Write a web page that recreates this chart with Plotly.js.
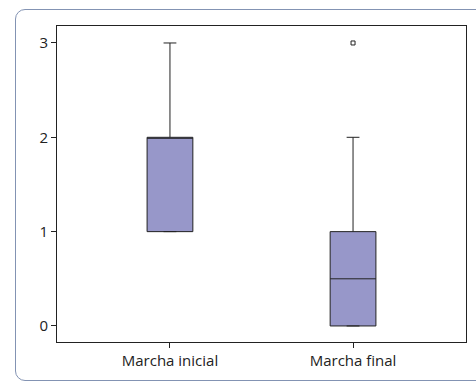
<!DOCTYPE html>
<html>
<head>
<meta charset="utf-8">
<script src="https://cdn.plot.ly/plotly-3.0.1.min.js"></script>
<style>
  html, body { margin: 0; padding: 0; background: #fff; }
  #wrap { position: relative; width: 476px; height: 383px; overflow: hidden; }
  #frame { position: absolute; left: 15px; top: 9px; width: 480px; height: 372px;
           border: 1px solid #8393b3; border-radius: 10px; box-sizing: border-box; }
  #chart { position: absolute; left: 0; top: 0; width: 476px; height: 383px; }
</style>
</head>
<body>
<div id="wrap">
  <div id="frame"></div>
  <div id="chart"></div>
</div>
<script>
const categories = ["Marcha inicial", "Marcha final"];
const q1Values = [1, 0];
const medianValues = [2, 0.5];
const q3Values = [2, 1];
const lowerFences = [1, 0];
const upperFences = [3, 2];
const outlierCategories = ["Marcha final"];
const outlierValues = [3];
const yTickValues = [0, 1, 2, 3];

const boxTrace = {
  type: "box",
  x: categories,
  q1: q1Values,
  median: medianValues,
  q3: q3Values,
  lowerfence: lowerFences,
  upperfence: upperFences,
  fillcolor: "#9797c9",
  line: { color: "#222222", width: 1 },
  whiskerwidth: 0.28,
  width: 0.25,
  boxpoints: false,
  hoverinfo: "skip",
  showlegend: false
};

const outlierTrace = {
  type: "scatter",
  mode: "markers",
  x: outlierCategories,
  y: outlierValues,
  marker: { symbol: "square-open", size: 4, color: "#222222", line: { width: 1, color: "#222222" } },
  hoverinfo: "skip",
  showlegend: false
};

const layout = {
  width: 476,
  height: 383,
  margin: { l: 57, r: 10, t: 26, b: 41 },
  paper_bgcolor: "rgba(0,0,0,0)",
  plot_bgcolor: "#ffffff",
  font: { family: "Open Sans, Liberation Sans, sans-serif", size: 15, color: "#222222" },
  showlegend: false,
  xaxis: {
    type: "category",
    range: [-0.617, 1.617],
    showgrid: false,
    zeroline: false,
    showline: true,
    mirror: true,
    linecolor: "#222222",
    linewidth: 1,
    ticks: "outside",
    ticklen: 5,
    tickcolor: "#222222",
    tickfont: { size: 15, color: "#222222" }
  },
  yaxis: {
    range: [-0.17, 3.18],
    tickvals: yTickValues,
    ticktext: yTickValues.map(String),
    showgrid: false,
    zeroline: false,
    showline: true,
    mirror: true,
    linecolor: "#222222",
    linewidth: 1,
    ticks: "outside",
    ticklen: 5,
    tickcolor: "#222222",
    tickfont: { size: 15, color: "#222222" }
  }
};

Plotly.newPlot("chart", [boxTrace, outlierTrace], layout, { displayModeBar: false, staticPlot: true });
</script>
</body>
</html>
